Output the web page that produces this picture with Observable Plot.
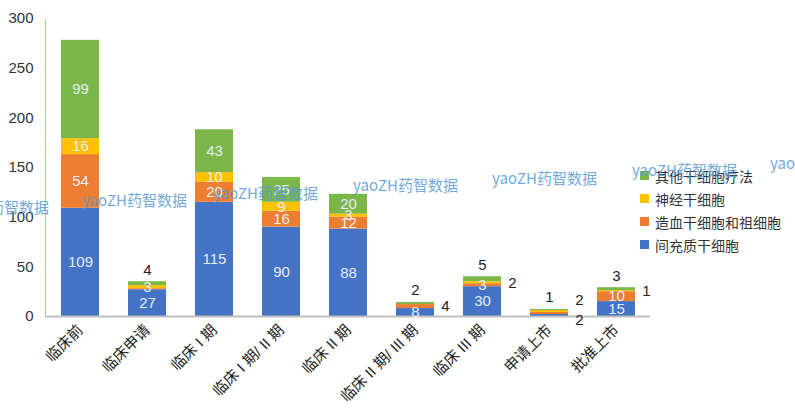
<!DOCTYPE html>
<html>
<head>
<meta charset="utf-8">
<script src="https://cdn.jsdelivr.net/npm/d3@7"></script>
<script src="https://cdn.jsdelivr.net/npm/@observablehq/plot@0.6"></script>
<style>
  html, body { margin: 0; padding: 0; background: #fff; }
  #wrap { position: relative; width: 795px; height: 420px; overflow: hidden;
          font-family: "Liberation Sans", "Noto Sans CJK SC", sans-serif; }
  #legend { position: absolute; left: 640px; top: 164px; font-size: 14px; color: #333; }
  #legend .item { display: flex; align-items: center; height: 23px; }
  #legend .sw { width: 9px; height: 9px; margin-right: 6px; }
  .wm { position: absolute; font-size: 15px; line-height: 1; color: #5b9bd5; opacity: 0.85;
        white-space: nowrap; font-family: "Noto Sans CJK SC", sans-serif; pointer-events: none; }
  #wrap svg g[aria-label="x-axis tick label"] text { font-size: 15px; }
</style>
</head>
<body>
<div id="wrap"></div>
<script>
// ---- data ----
const stages = ["临床前", "临床申请", "临床 I 期", "临床 I 期/ II 期", "临床 II 期",
                "临床 II 期/ III 期", "临床 III 期", "申请上市", "批准上市"];
const series = ["间充质干细胞", "造血干细胞和祖细胞", "神经干细胞", "其他干细胞疗法"];
const mesenchymal   = [109, 27, 115, 90, 88, 8, 30, 2, 15];
const hematopoietic = [54, 1, 20, 16, 12, 4, 3, 2, 10];
const neural        = [16, 3, 10, 9, 3, 0, 2, 2, 1];
const other         = [99, 4, 43, 25, 20, 2, 5, 1, 3];
const yTicks = [0, 50, 100, 150, 200, 250, 300];
const watermarkText = "yaoZH药智数据";

// label placement for small segments (display option)
const labelPlacement = [
  {stage: "临床申请", series: "造血干细胞和祖细胞", pos: "hide"},
  {stage: "临床申请", series: "其他干细胞疗法", pos: "top"},
  {stage: "临床 II 期/ III 期", series: "造血干细胞和祖细胞", pos: "right", dy: 0},
  {stage: "临床 II 期/ III 期", series: "其他干细胞疗法", pos: "top"},
  {stage: "临床 III 期", series: "神经干细胞", pos: "right", dy: 0},
  {stage: "临床 III 期", series: "其他干细胞疗法", pos: "top"},
  {stage: "申请上市", series: "间充质干细胞", pos: "hide"},
  {stage: "申请上市", series: "造血干细胞和祖细胞", pos: "right", dy: 7},
  {stage: "申请上市", series: "神经干细胞", pos: "right", dy: -11},
  {stage: "申请上市", series: "其他干细胞疗法", pos: "top"},
  {stage: "批准上市", series: "神经干细胞", pos: "right", dy: 0},
  {stage: "批准上市", series: "其他干细胞疗法", pos: "top"}
];

const colors = ["#4472c4", "#ed7d31", "#ffc000", "#7ab648"];
const seriesValues = [mesenchymal, hematopoietic, neural, other];

// ---- build stacked rows ----
const rows = [];
stages.forEach((s, i) => {
  const total = d3.sum(seriesValues, v => v[i]);
  let acc = 0;
  seriesValues.forEach((vals, j) => {
    const v = vals[i];
    const p = labelPlacement.find(l => l.stage === s && l.series === series[j]);
    rows.push({stage: s, series: series[j], value: v, y1: acc, y2: acc + v,
               mid: acc + v / 2, total, pos: p ? p.pos : "in", ldy: p && p.dy != null ? p.dy : 0});
    acc += v;
  });
});
const segs = rows.filter(r => r.value > 0);
const inside = segs.filter(r => r.pos === "in");
const topL = segs.filter(r => r.pos === "top");
const rightL = segs.filter(r => r.pos === "right");
const rightGroups = d3.groups(rightL, d => d.ldy);

const font = "Liberation Sans, Noto Sans CJK SC, sans-serif";

const chart = Plot.plot({
  width: 795,
  height: 420,
  marginTop: 18,
  marginBottom: 104,
  marginLeft: 45,
  marginRight: 145,
  style: {fontFamily: font, background: "transparent", fontSize: "15px"},
  x: {domain: stages, paddingInner: 0.44, paddingOuter: 0.22, label: null},
  y: {domain: [0, 300], label: null},
  color: {domain: series, range: colors},
  marks: [
    Plot.frame({anchor: "left", stroke: "#a9d18e", strokeWidth: 1}),
    Plot.barY(segs, {x: "stage", y1: "y1", y2: "y2", fill: "series"}),
    Plot.ruleY([0], {stroke: "#bfbfbf", strokeWidth: 2}),
    Plot.text(inside, {x: "stage", y: "mid", text: d => String(d.value),
                       fill: "#e6eef8", fontSize: 15}),
    Plot.text(topL, {x: "stage", y: "total", text: d => String(d.value),
                     fill: "#222", fontSize: 15, dy: -12}),
    ...rightGroups.map(([ldy, data]) =>
      Plot.text(data, {x: "stage", y: "mid", text: d => String(d.value),
                       fill: "#222", fontSize: 15, dx: 30, dy: ldy})),
    Plot.axisY({ticks: yTicks, tickSize: 0, tickPadding: 12, fontSize: 15,
                fill: "#333", label: null}),
    Plot.axisX({tickSize: 0, tickPadding: 11, tickRotate: -45, fontSize: 15,
                fill: "#222", label: null})
  ]
});

const wrap = document.getElementById("wrap");
wrap.appendChild(chart);

// legend (top to bottom: reverse of stacking order)
const legend = document.createElement("div");
legend.id = "legend";
series.slice().reverse().forEach(name => {
  const it = document.createElement("div");
  it.className = "item";
  const sw = document.createElement("span");
  sw.className = "sw";
  sw.style.background = colors[series.indexOf(name)];
  const tx = document.createElement("span");
  tx.textContent = name;
  it.appendChild(sw); it.appendChild(tx);
  legend.appendChild(it);
});
wrap.appendChild(legend);

// watermarks
const wmPos = [[-56, 207], [82, 200], [213, 193], [353, 185], [492, 178], [632, 170], [770, 163]];
wmPos.forEach(([x, y]) => {
  const s = document.createElement("span");
  s.className = "wm";
  s.textContent = watermarkText;
  s.style.left = x + "px";
  s.style.top = (y - 8) + "px";
  wrap.appendChild(s);
});
</script>
</body>
</html>
